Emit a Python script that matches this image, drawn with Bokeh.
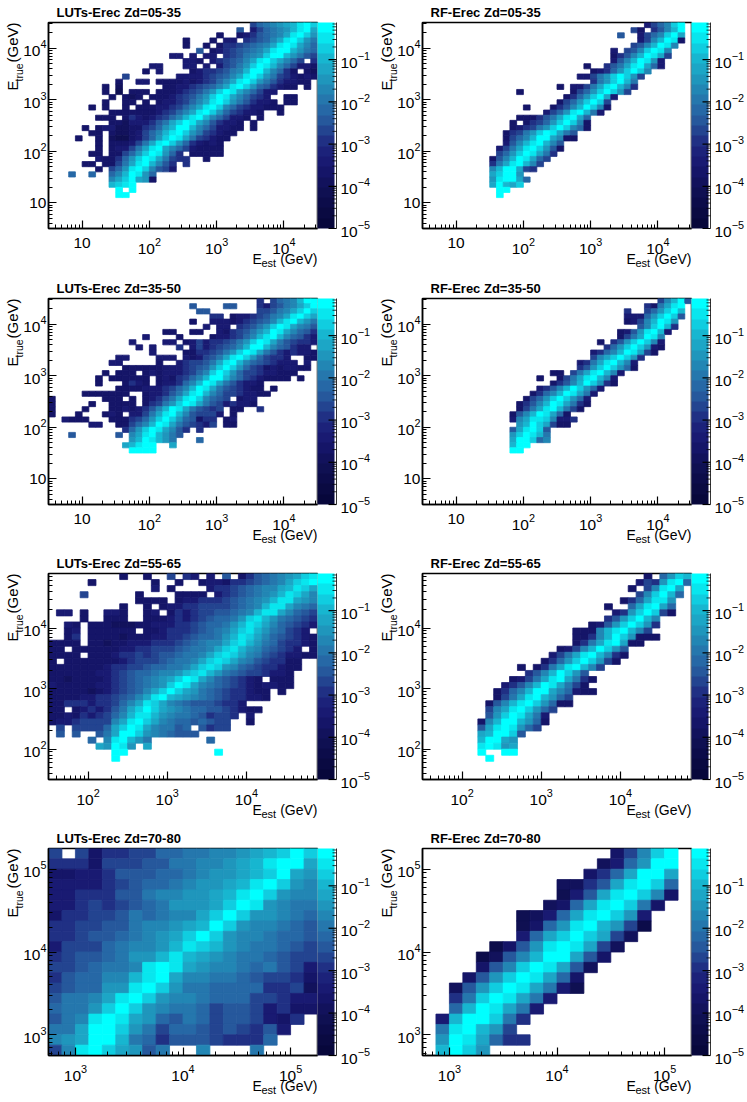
from bokeh.embed import file_html
from bokeh.layouts import column, row
from bokeh.models import ColorBar, ColumnDataSource, Label, LogColorMapper, LogTicker, LogTickFormatter
from bokeh.plotting import figure
from bokeh.resources import INLINE
from bokeh.transform import transform

# cells, top row first: (first filled column, colour band per cell)
# band is the colorbar step 0..j (20 steps from 1e-5 to 0.76), "." is an empty cell
luts_05_35 = [
    (30, "8abcdefhig"), (28, "9.68abcdfhie"), (25, "5..5679abcehigd"), (20, "5...5.66.789acehigdb"),
    (20, "5..5.57789abcehjheca"), (22, "9.56789abcehjifdba"), (18, "66.6.66.789bcdgiifdb98"),
    (20, "665.6789acehigeca8.7"), (15, "66...66.6.689bdgihfca8665"), (14, "5.6....567789bcfiifca75.54"),
    (11, "8.......666678" + "9acehjgdb876565"), (10, "5..66.555565678acehjgdb976655"),
    (8, "5.4......5566789acehjgda97655.5"), (8, "5.3.555.5556789bdgiheca866"),
    (9, "5.545.5556789bdgiheca876..55"), (8, "5..55.5.56678acehigdb97665.55"),
    (6, "5.5..5.5556678acehigca8766555"), (9, "5555555678acehjgda87665..5"),
    (7, "555.5765678acfhifca8665.5"), (9, "55466679begihec97665.5"),
    (5, "5.566445578adfiifca86655.5"), (6, "55.544568acfhigdb87655"),
    (4, "5..5.433568adgiheb87655"), (7, "5.55568behjgda76565"), (7, "5.5668behieca865555"),
    (6, "55.558adgihda7.55555"), (7, "6557adgiheb877..5"), (5, "55.558behifc97.7"),
    (7, "5.8adhjgc986"), (3, "a..a..acfjhda"), (9, "cegjed5"), (9, "fghi"), (10, "j.j"), (10, "jj"),
]
rf_05_35 = [
    (33, "68acgj"), (31, "85.79cfj"), (29, "9..68acgie"), (32, "68cfih5"), (31, "89cfihc"),
    (28, "6.89cgihc"), (28, "579cfihe8"), (28, "69cfihd6"), (24, "5..79behiea6"), (25, "567adgigc"),
    (23, "668bdgigd8"), (25, "7bdgifb"), (20, "5.668behifc7"), (14, "5.......58adgigd8"),
    (21, "57adgie6"), (20, "58adgig8"), (15, "5...579cfigc5"), (18, "68adhifb6"), (14, "55579behiea"),
    (13, "5.578adgigc5"), (13, "5678bdgigca5"), (12, "578bdgiheb9"), (12, "58acfiiec55"),
    (12, "69cfhifc9"), (11, "68behigd95"), (11, "8adgiheb7"), (10, "59cfihea8"), (10, "7behjfc8"),
    (10, "cfije87"), (10, "egjid"), (10, "dhjiea"), (10, "eifeg"), (11, "jj"), (11, "j"),
]
luts_35_50 = [
    (31, "7.8abcfij"), (21, "9....99...7689bcegi"), (22, "99.......889bcegig"), (24, "77.566789bcehige"),
    (21, "5..66656789acfhifdb"), (23, "6.66.789bdgihecb9"), (17, "55..55..65789bdfiheca97"),
    (14, "6....5....56678acfhifca976"), (12, "6....66.56867789bdgiheb98776"),
    (13, "6.6...7.686789acfiifca9766"), (15, "6....557789bdgiheb9767665"),
    (10, "66....666.65689behjgda8776..55"), (9, "66.....5..67889behjfca987666.6"),
    (11, "555555666789adgigda875656655"), (8, "5.555.56566678acgigda88766555"),
    (7, "5.555555.56578acfiifca8765555.5"), (7, "5...5765.5667acfiheb97665"),
    (10, "555566678acfiheb987655.5"), (5, "5555555..56679behifca8876655"),
    (0, "5.......555.5.5679behigca98.566"), (0, "5.....5..5555.578bdgiheb9867665"),
    (0, "5....5...5565679cfiheb9878.55..7"), (0, "5...5...565.668behifc98886.5"),
    (2, "6555...55578adgigda9577.56"), (6, "66..558acfiheb98768.55"), (11, "7adgihec97.7"),
    (3, "9......9.cehifdb9"), (12, "dfihfdb...a"), (11, "efhii..e"), (12, "ijjj"),
]
rf_35_50 = [
    (35, "8cfi9"), (33, "75behi"), (30, "7..8adgif"), (30, "666adgig9"), (30, "568cfihd"), (32, "9cgif7"),
    (29, "569dhif6"), (29, "58beihc"), (26, "5.79dgigc6"), (27, "7adgigd65"), (25, "67acfihe85"),
    (25, "8cegigd7"), (23, "67behifc6"), (23, "79dgigda5"), (19, "55.8behifc6"), (17, "5..58behifc6"),
    (19, "579cfigd75"), (17, "679cfigda6"), (16, "57acfiheb6"), (15, "58adgigda6"), (14, "579cfiheb75"),
    (14, "58behjfb85"), (13, "59cfihea5"), (13, "6cehhgc667"), (14, "dfige855"), (13, "9ehjg9"),
    (13, "dgjhfb"), (13, "eiigac"), (13, "fji"), (13, "jj"),
]
luts_55_65 = [
    (9, "5..5..8.76.6.9.579abcdegh"), (5, "5.......5..5..56657789abceghi"), (13, "6.5....67789abccefhge"),
    (4, "8......5....5555.6789abcdfhgec"), (11, "5555.56677789abcdfhhedc"),
    (9, "5..5.566778888" + "9abcfhhecba"), (1, "66.5..665..56.57678899abcfhheca98"),
    (4, "5..555..555676789aabdghfdba987"), (2, "65.5554445566" + "67789aabdfhgeca9876"),
    (2, "56.555555.55677789abceghfdba876"), (2, "57.55554555667789aabdfhgeca98765"),
    (0, "5555.5545566677789abcceghfdba87765"), (0, "55.55555566778889abbceghfdca9876.5"),
    (0, "5555.55567787899abbceghgecb9876655"), (0, "5.5555555678889abbceghgecb987755"),
    (0, "555555567788" + "9aabbceghgdca9877655"), (0, "5555556678" + "9aabccdfghfdba9887665"),
    (0, "5545555" + "6789abcdegiheca98765.555"), (0, "6555556678" + "9abcdgihecba987656655"),
    (0, "55555456789acegigedba9877655.5"), (0, "5555667789acehifedcba9877665"),
    (0, "557776778acehgecba9998776"), (0, "55.567679begigedcbaa9987655"),
    (0, "55657678acfhhfdcbba97887.6"), (0, "56678888cehigecbaa9a988..5"),
    (1, "8.8888aegihecbb9a.9788"), (1, "9.9..9beijgdcba999"), (5, "a.chjfdb.......a"),
    (6, "edihd.e"), (8, "ji...........j"), (8, "j"),
]
rf_55_65 = [
    (28, "5.adgf"), (27, "687dhia"), (26, "5.8chie"), (27, "8cgifa"), (25, "57aehhd"), (23, "5..aehiea"),
    (24, "67dgig85"), (23, "79dgifc"), (21, "569dgigd7"), (19, "555cfhifc8"), (19, "557cfigd555"),
    (19, "57behie55"), (17, "568cfigd9"), (16, "68behifc75"), (15, "57adgigd85"), (12, "5.57behifc8"),
    (13, "79cfigd9"), (11, "568behieb75"), (10, "679cfiheb85"), (9, "57acfiieca655"), (9, "58behifda8"),
    (8, "59cfhigda55"), (8, "8cehigda8"), (8, "9dgiheb6"), (7, "5cfiifda5"), (7, "9ehjhda8"), (7, "efjig9"),
    (7, "fjied"), (7, "hjhde"), (7, "j..jj"), (8, "j"),
]
luts_70_80 = [
    (0, "8.857788aabbccdefgig"), (0, "777588899bbccdefhiie"), (0, "55667999aabcddefgied"),
    (0, "6666789aabcddefhigdc"), (0, "6677799bccddefhigdcc"), (0, "6678789abdddegihdcbb"),
    (0, "577889babccegigddcba"), (0, "778899bccdefigdccba9"), (0, "77899abcdegigdccbaa9"),
    (0, "6888abccdfhgfdcbba98"), (0, "7899abddfhfedcbba988"), (0, "889abbchihedccbab986"),
    (0, "79aaccfhieccbba98875"), (0, "89aaddhigdbbaaaa7784"), (0, "9bbcehigdccbaaa88766"),
    (0, "abbdgigdcbba89986755"), (0, "9bchiheda9ba8998657."), (0, "bbeiigdb8aa9898796"),
    (0, "cdeiifba79998777a"), (0, "8chjged9b..c...b"),
]
rf_70_80 = [
    (14, "58cgj"), (13, "46adji"), (12, "57aeije"), (10, "4479ehjga"), (10, "369ehigc5"), (9, "45aehigb5"),
    (7, "346aehigd6"), (7, "35adhifd82"), (7, "6aegige84"), (5, "259dhihe84"), (4, "249cfiie95"),
    (4, "59cgjhe94"), (3, "59dgihea5"), (2, "49dgjheb63"), (2, "7bgjheb6"), (2, "afjheb6"), (1, "6fiigb7"),
    (1, "bhjfd8"), (1, "djhea77"), (1, "fjgd"),
]

# colorbar steps, dark navy to cyan
palette = ["#07073b", "#0a0a42", "#0c0c4a", "#0f1052", "#12125c", "#151568", "#191a72", "#1c227a", "#203084", "#234490",
           "#26589c", "#2668a6", "#2577ad", "#2286b4", "#1f96bc", "#1ca6c6", "#17b6d0", "#10cde0", "#08e6ee", "#00ffff"]
bands = "0123456789abcdefghij"
# my by-eye bands ran dark against the colorbar, this lines them up
shown = [0, 1, 2, 3, 4, 5, 6, 8, 9, 10, 11, 12, 13, 14, 15, 16, 17, 18, 19, 19]
z_low, z_high = -5.0, -0.12

# log10 range and number of bins for each zenith row
zd_rows = [
    ("05-35", luts_05_35, rf_05_35, 0.5, 4.5, 40, 22, 206),
    ("35-50", luts_35_50, rf_35_50, 0.5, 4.5, 40, 23, 206),
    ("55-65", luts_55_65, rf_55_65, 1.5, 4.9, 34, 22, 206),
    ("70-80", luts_70_80, rf_70_80, 2.75, 5.25, 20, 22, 207),
]

FONT = "Liberation Sans"
PAGE_W, PAGE_H = 747, 1102
GRID_H = 1096
frame_lefts = [48, 422]
frame_tops = [22, 298, 573, 848]


def cells(rows, lo, hi, nbins):
    edges = [10 ** (lo + (hi - lo) * i / nbins) for i in range(nbins + 1)]
    left, right, top, bottom, z = [], [], [], [], []
    for j, (start, levels) in enumerate(rows):
        for k, c in enumerate(levels):
            if c == ".":
                continue
            i = start + k
            if i >= nbins:
                continue
            left.append(edges[i])
            right.append(edges[i + 1])
            top.append(edges[nbins - j])
            bottom.append(edges[nbins - j - 1])
            z.append(10 ** (z_low + (shown[bands.index(c)] + 0.5) * (z_high - z_low) / len(bands)))
    return dict(left=left, right=right, top=top, bottom=bottom, z=z)


def panel(rows, lo, hi, nbins, border_top, frame_h, border_right):
    p = figure(frame_width=269, frame_height=frame_h, x_axis_type="log", y_axis_type="log",
               x_range=(10 ** lo, 10 ** hi), y_range=(10 ** lo, 10 ** hi),
               min_border_left=48, min_border_right=border_right, min_border_top=border_top, min_border_bottom=41,
               toolbar_location=None, output_backend="svg", background_fill_color="white",
               outline_line_color="black", outline_line_width=1.5)
    p.grid.visible = False
    mapper = LogColorMapper(palette=palette, low=10 ** z_low, high=10 ** z_high)
    p.quad(left="left", right="right", top="top", bottom="bottom", source=ColumnDataSource(cells(rows, lo, hi, nbins)),
           fill_color=transform("z", mapper), line_color=transform("z", mapper), line_width=0.8)

    for ax in (p.xaxis[0], p.yaxis[0]):
        ax.major_tick_in = 8
        ax.major_tick_out = 0
        ax.minor_tick_in = 4
        ax.minor_tick_out = 0
        ax.axis_line_width = 1.5
        ax.major_tick_line_width = 1.2
        ax.major_label_text_font = FONT
        ax.major_label_text_font_size = "15.5px"
        ax.major_label_text_color = "black"
        ax.major_label_overrides = {10: "10"}
    p.xaxis.major_label_standoff = 9
    p.yaxis.major_label_standoff = 2

    bar = ColorBar(color_mapper=mapper, ticker=LogTicker(), formatter=LogTickFormatter(), width=17, padding=0, margin=2,
                   major_tick_in=0, major_tick_out=0, minor_tick_in=0, minor_tick_out=0,
                   major_tick_line_color=None, minor_tick_line_color=None,
                   major_label_text_font=FONT, major_label_text_font_size="15.5px", major_label_text_color="black",
                   label_standoff=6, border_line_color=None, bar_line_color=None)
    p.add_layout(bar, "right")
    return p


# labels outside a frame get clipped, so titles, axis labels and the bar ticks sit on a see-through figure
def add_text(p, x, y, text, size="15px", angle=0, align="left", style="normal"):
    p.add_layout(Label(x=x, y=y, text=text, text_font=FONT, text_font_size=size, text_font_style=style,
                       text_color="black", angle=angle, angle_units="deg", text_align=align,
                       text_baseline="middle"))


labels = figure(width=PAGE_W, height=PAGE_H, x_range=(0, PAGE_W), y_range=(PAGE_H, 0), x_axis_location=None,
                y_axis_location=None, min_border=0, toolbar_location=None, output_backend="svg",
                outline_line_color=None, background_fill_alpha=0, border_fill_alpha=0, margin=(-GRID_H, 0, 0, 0))
labels.grid.visible = False
for (zd, _, _, _, _, _, _, fh), top in zip(zd_rows, frame_tops):
    for name, left in zip(["LUTs", "RF"], frame_lefts):
        bottom = top + fh
        add_text(labels, left + 8, top - 10.5, name + "-Erec Zd=" + zd, size="13px", style="bold")
        add_text(labels, left + 204, bottom + 30, "E", size="14px")
        add_text(labels, left + 213, bottom + 34, "est", size="11px")
        add_text(labels, left + 269, bottom + 30, "(GeV)", size="14px", align="right")
        add_text(labels, left - 36, bottom - 138, "E", angle=90)
        add_text(labels, left - 30, bottom - 147, "true", size="10.5px", angle=90)
        add_text(labels, left - 36, top, "(GeV)", angle=90, align="right")

        # colorbar ticks on the right edge of the bar, inward
        bar_right = left + 288
        y_of = lambda z: top + (z_high - z) / (z_high - z_low) * fh
        decades = [-5, -4, -3, -2, -1]
        major_y = [y_of(d) for d in decades]
        labels.segment(x0=bar_right - 8, x1=bar_right, y0=major_y, y1=major_y, line_color="black", line_width=1.2)
        minor_y = [y_of(d + m) for d in decades for m in [0.301, 0.477, 0.602, 0.699, 0.778, 0.845, 0.903, 0.954]
                   if d + m <= z_high]
        labels.segment(x0=bar_right - 4, x1=bar_right, y0=minor_y, y1=minor_y, line_color="black", line_width=0.8)
        labels.segment(x0=[bar_right], x1=[bar_right], y0=[top], y1=[bottom], line_color="black", line_width=0.8)

grid = []
for zd, luts, rf, lo, hi, nbins, top, fh in zd_rows:
    grid.append(row(panel(luts, lo, hi, nbins, top, fh, 57), panel(rf, lo, hi, nbins, top, fh, 56)))
page = column(column(*grid, spacing=6), labels)

open("out.html", "w").write(file_html(page, INLINE))
